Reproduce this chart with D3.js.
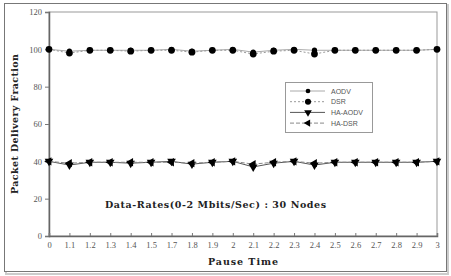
<!DOCTYPE html>
<html>
<head>
<meta charset="utf-8">
<script src="https://cdn.jsdelivr.net/npm/d3@7"></script>
<style>
  body { margin: 0; background: #fff; }
  svg { display: block; }
</style>
</head>
<body>
<script>
(function() {

    var width = 451;
    var height = 276;

    // pause time categories
    const pauseTimes = ["0", "1.1", "1.2", "1.3", "1.4", "1.5", "1.7", "1.8", "1.9", "2",
                        "2.1", "2.2", "2.3", "2.4", "2.5", "2.6", "2.7", "2.8", "2.9", "3"];

    // packet delivery fraction for each protocol
    const aodv   = [100, 99, 99.5, 99.5, 99.5, 99.5, 100, 99, 99.5, 100, 98.5, 99.5, 100, 99.5, 99.5, 99.5, 99.5, 99.5, 99.5, 100];
    const dsr    = [100, 98, 99.5, 99.5, 99, 99.5, 99.5, 98.5, 99.5, 99.5, 97.5, 99, 99.5, 97.5, 99.5, 99.5, 99.5, 99.5, 99.5, 100];
    const haAodv = [40, 38, 39.5, 39.5, 39, 39.5, 40, 38.5, 39.5, 40, 37, 39, 40, 38, 39.5, 39.5, 39.5, 39.5, 39.5, 40];
    const haDsr  = [40, 39, 39.5, 39.5, 39.5, 39.5, 39.5, 39, 39.5, 40, 38.5, 39.5, 40, 39, 39.5, 39.5, 39.5, 39.5, 39.5, 40];

    const yTicks = [0, 20, 40, 60, 80, 100, 120];

    const series = [
        { name: "AODV",    values: aodv,   stroke: "#aaa", dash: null,  width: 1, marker: "circle", size: 22 },
        { name: "DSR",     values: dsr,    stroke: "#999", dash: "2,2", width: 1, marker: "circle", size: 36 },
        { name: "HA-AODV", values: haAodv, stroke: "#555", dash: null,  width: 1, marker: "down",   size: 32 },
        { name: "HA-DSR",  values: haDsr,  stroke: "#888", dash: "4,2", width: 1, marker: "left",   size: 30 }
    ];

    const margin = { left: 49, right: 14, top: 12, bottom: 40 };

    const svg = d3.select("body")
      .append("svg")
      .attr("width", width)
      .attr("height", height);

    // outer frame with a little shadow
    svg.append("rect")
        .attr("x", 6).attr("y", 5)
        .attr("width", 442).attr("height", 269)
        .attr("fill", "none").attr("stroke", "#ccc").attr("stroke-width", 2);
    svg.append("rect")
        .attr("x", 4.5).attr("y", 3.5)
        .attr("width", 442).attr("height", 268)
        .attr("fill", "#fff").attr("stroke", "#777").attr("stroke-width", 1);

    const x = d3.scalePoint()
        .domain(pauseTimes)
        .range([margin.left, width - margin.right]);

    const y = d3.scaleLinear()
        .domain([0, 120])
        .range([height - margin.bottom, margin.top]);

    // plot box
    svg.append("rect")
        .attr("x", margin.left).attr("y", margin.top)
        .attr("width", width - margin.right - margin.left)
        .attr("height", height - margin.bottom - margin.top)
        .attr("fill", "none").attr("stroke", "#999").attr("stroke-width", 1);

    // axes
    const yAxis = svg.append("g")
        .attr("transform", "translate(" + margin.left + ",0)")
        .call(d3.axisLeft(y).tickValues(yTicks).tickSize(4).tickPadding(3));

    const xAxis = svg.append("g")
        .attr("transform", "translate(0," + (height - margin.bottom) + ")")
        .call(d3.axisBottom(x).tickSize(-3).tickPadding(6));

    [yAxis, xAxis].forEach(function(g) {
        g.select(".domain").attr("stroke", "#666").attr("stroke-width", 1.5);
        g.selectAll(".tick line").attr("stroke", "#777");
        g.selectAll(".tick text")
            .attr("fill", "#555")
            .style("font-family", "'Liberation Serif', serif")
            .style("font-size", "8.5px");
    });

    // lines and markers
    const line = d3.line()
        .x(function(d, i) { return x(pauseTimes[i]); })
        .y(function(d) { return y(d); });

    function markerPath(kind, size) {
        if (kind === "circle") return d3.symbol(d3.symbolCircle, size)();
        return d3.symbol(d3.symbolTriangle, size)();
    }
    function markerRotate(kind) {
        if (kind === "down") return 180;
        if (kind === "left") return -90;
        return 0;
    }

    series.forEach(function(s) {
        svg.append("path")
            .datum(s.values)
            .attr("d", line)
            .attr("fill", "none")
            .attr("stroke", s.stroke)
            .attr("stroke-width", s.width)
            .attr("stroke-dasharray", s.dash);

        svg.selectAll(null)
            .data(s.values)
            .enter()
            .append("path")
            .attr("d", markerPath(s.marker, s.size))
            .attr("transform", function(d, i) {
                return "translate(" + x(pauseTimes[i]) + "," + y(d) + ") rotate(" + markerRotate(s.marker) + ")";
            })
            .attr("fill", "#000");
    });

    // legend
    const legend = svg.append("g").attr("transform", "translate(285,82)");
    legend.append("rect")
        .attr("x", 0.5).attr("y", 0.5)
        .attr("width", 87).attr("height", 50)
        .attr("fill", "#fff").attr("stroke", "#999");

    series.forEach(function(s, i) {
        const ly = 9 + i * 10.7;
        legend.append("line")
            .attr("x1", 5).attr("x2", 40)
            .attr("y1", ly).attr("y2", ly)
            .attr("stroke", s.stroke)
            .attr("stroke-width", s.width)
            .attr("stroke-dasharray", s.dash);
        legend.append("path")
            .attr("d", markerPath(s.marker, s.size * 0.8))
            .attr("transform", "translate(23," + ly + ") rotate(" + markerRotate(s.marker) + ")")
            .attr("fill", "#000");
        legend.append("text")
            .attr("x", 46).attr("y", ly + 2.5)
            .attr("fill", "#555")
            .style("font-family", "'Liberation Sans', Arial, sans-serif")
            .style("font-size", "7px")
            .text(s.name);
    });

    // titles
    svg.append("text")
        .attr("transform", "translate(15," + (y(60)) + ") rotate(-90)")
        .attr("text-anchor", "middle")
        .attr("dy", "0.35em")
        .attr("textLength", 140)
        .attr("lengthAdjust", "spacing")
        .style("font-family", "'DejaVu Serif', serif")
        .style("font-weight", "bold")
        .style("font-size", "9.5px")
        .attr("fill", "#222")
        .text("Packet Delivery Fraction");

    svg.append("text")
        .attr("x", 243).attr("y", 265)
        .attr("text-anchor", "middle")
        .attr("textLength", 70)
        .attr("lengthAdjust", "spacing")
        .style("font-family", "'DejaVu Serif', serif")
        .style("font-weight", "bold")
        .style("font-size", "9.5px")
        .attr("fill", "#222")
        .text("Pause Time");

    svg.append("text")
        .attr("x", 105).attr("y", 208)
        .attr("textLength", 221)
        .attr("lengthAdjust", "spacing")
        .style("font-family", "'DejaVu Serif', serif")
        .style("font-weight", "bold")
        .style("font-size", "9.5px")
        .attr("fill", "#222")
        .text("Data-Rates(0-2 Mbits/Sec) : 30 Nodes");

})();
</script>
</body>
</html>
